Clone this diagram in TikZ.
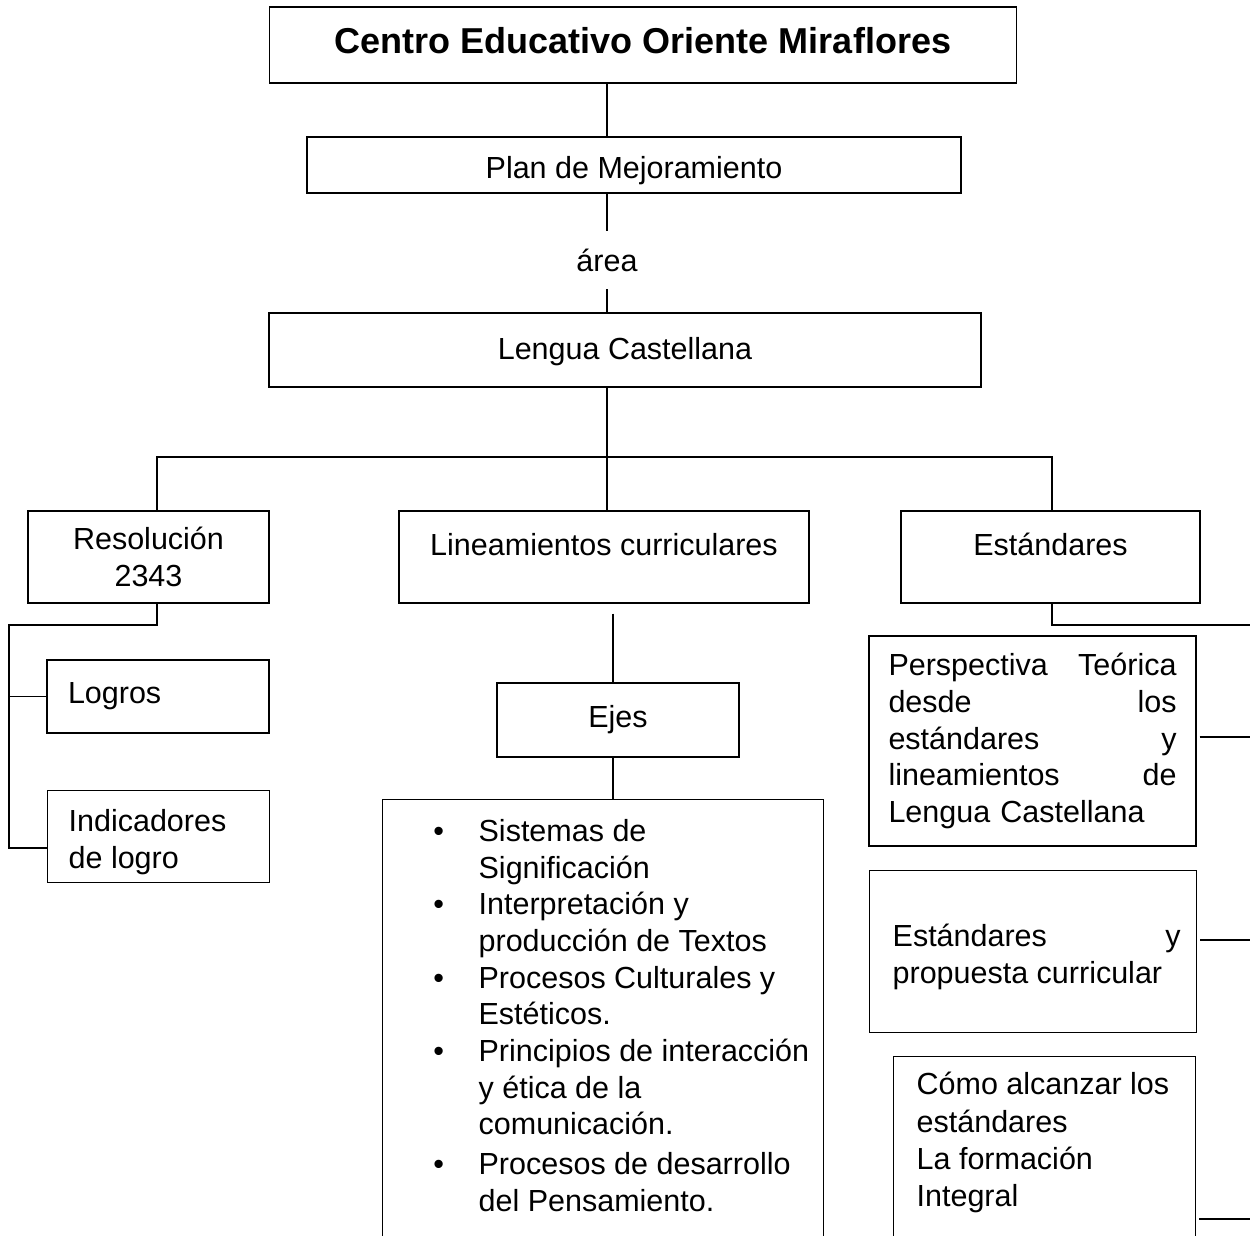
\documentclass[tikz,border=0pt]{standalone}
\usepackage{fontspec}
\setmainfont{Liberation Sans}
\tolerance=10000 \hbadness=10000
\newcommand\bulmark{\leavevmode\llap{•\hspace{34.5pt}}}
\newcommand\topbox[5]{\parbox[t][#1][t]{#2}{\fontsize{30.5}{36.7}\selectfont\raggedright\leftskip=#3\relax\vspace*{#4}\strut #5}}
\begin{document}
\begin{tikzpicture}[x=1pt,y=-1pt,
  every node/.style={inner sep=0pt},
  txt/.style={font=\fontsize{30.5}{36.7}\selectfont},
  box/.style={draw, line width=1.3pt, txt},
  conn/.style={line width=1.3pt}]
\useasboundingbox (0,0) rectangle (1250,1236);
\clip (0,0) rectangle (1250,1236);

% top chain
\node[box, minimum width=747pt, minimum height=76pt, font=\bfseries\fontsize{36}{40}\selectfont, text depth=10pt] (title) at (643,45) {Centro Educativo Oriente Miraflores};
\node[box, minimum width=654pt, minimum height=56pt, text height=34pt] (plan) at (634,165) {Plan de Mejoramiento};
\node[txt, minimum height=58pt] (area) at (607,260) {área};
\node[box, minimum width=712pt, minimum height=74pt, text height=26pt] (lengua) at (625,350) {Lengua Castellana};

% second level
\node[box, minimum width=241pt, minimum height=92pt, align=center] (res) at (148.5,557) {Resolución\\2343};
\node[box, minimum width=410pt, minimum height=92pt, text depth=26pt] (lin) at (604,557) {Lineamientos curriculares};
\node[box, minimum width=299pt, minimum height=92pt, text depth=26pt] (est) at (1050.5,557) {Estándares};

% left branch
\node[box, text width=180pt, inner xsep=21pt, minimum height=73pt, align=left] (logros) at (158,696.5) {Logros};
\node[box, anchor=north west] (ind) at (47,790) {\topbox{92pt}{222pt}{21pt}{15pt}{Indicadores\\de logro}};

% middle branch
\node[box, minimum width=242pt, minimum height=74pt] (ejes) at (618,720) {Ejes};
\node[box, anchor=north west] (bul) at (382,799) {\topbox{470pt}{441pt}{96pt}{16pt}{%
\bulmark Sistemas de\\
Significación\\
\bulmark Interpretación y\\
producción de Textos\\
\bulmark Procesos Culturales y\\
Estéticos.\\
\bulmark Principios de interacción\\
y ética de la\\
comunicación.\\[3pt]
\bulmark Procesos de desarrollo\\
del Pensamiento.}};

% right branch
\node[box, text width=288pt, inner xsep=19.5pt, minimum height=210pt, align=left] (persp) at (1032.5,741) {\makebox[288pt]{Perspectiva\hfill Teórica}\\
\makebox[288pt]{desde\hfill los}\\
\makebox[288pt]{estándares\hfill y}\\
\makebox[288pt]{lineamientos\hfill de}\\
Lengua Castellana};
\node[box, anchor=north west] (prop) at (869,870) {\topbox{162pt}{327pt}{23pt}{50pt}{\makebox[288pt]{Estándares\hfill y}\\propuesta curricular}};
\node[box, anchor=north west] (como) at (893,1056) {\parbox[t][200pt][t]{302pt}{\fontsize{30.5}{37.3}\selectfont\raggedright\leftskip=23pt\relax
\vspace*{12pt}\strut Cómo alcanzar los\\
estándares\\
La formación\\
Integral}};

% connectors
\coordinate (barL) at (157,457);
\coordinate (barR) at (1052,457);
\coordinate (resJ) at (9,625);
\coordinate (indJ) at (9,848);
\coordinate (ax) at (613,0);
\coordinate (linB) at ([yshift=-10pt]lin.south);
\coordinate (estR) at (1252,625);
\coordinate (r1) at (1252,737);
\coordinate (r2) at (1252,940);
\coordinate (r3) at (1252,1219);

\draw[conn] (title.south -| area) -- (plan.north -| area);
\draw[conn] (plan.south -| area) -- (area.north);
\draw[conn] (area.south) -- (lengua.north -| area);
\draw[conn] (lengua.south -| area) -- (area |- barL);
\draw[conn] (res.north -| barL) -- (barL) -- (barR) -- (est.north -| barR);
\draw[conn] (area |- barL) -- (lin.north -| area);

\draw[conn] (res.south -| barL) |- (resJ) -- (indJ) -- (indJ -| ind.west);
\draw[conn] (resJ |- logros.west) -- (logros.west);

\draw[conn] (linB -| ax) -- (ejes.north -| ax);
\draw[conn] (ejes.south -| ax) -- (bul.north -| ax);

\draw[conn] (est.south -| barR) |- (estR);
\draw[conn] (r1 -| persp.east) ++(3,0) -- (r1);
\draw[conn] (r2 -| prop.east) ++(3,0) -- (r2);
\draw[conn] (r3 -| como.east) ++(3,0) -- (r3);
\end{tikzpicture}
\end{document}
